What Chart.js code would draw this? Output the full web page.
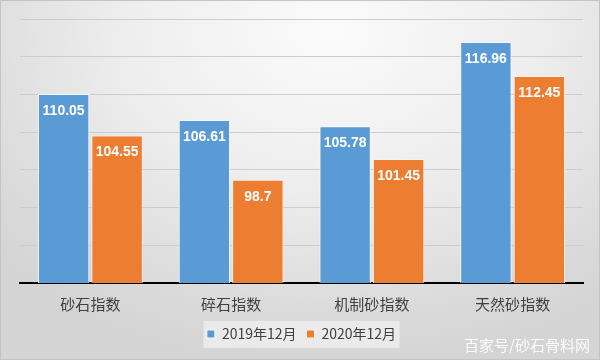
<!DOCTYPE html>
<html>
<head>
<meta charset="utf-8">
<script src="https://cdn.jsdelivr.net/npm/chart.js@4"></script>
<style>
    body { margin: 0; }
    #wrap {
        width: 600px; height: 360px; box-sizing: border-box;
        border: 1px solid #c4c4c4;
        background: radial-gradient(ellipse 75% 95% at 55% 8%, #fbfbfb 0%, #eeeeee 45%, #dadada 85%, #d4d4d4 100%);
    }
</style>
</head>
<body>
<div id="wrap"><canvas id="chart" width="598" height="358"></canvas></div>
<script>
const categories = ["砂石指数", "碎石指数", "机制砂指数", "天然砂指数"];
const series2019 = [110.05, 106.61, 105.78, 116.96];
const series2020 = [104.55, 98.7, 101.45, 112.45];
const seriesNames = ["2019年12月", "2020年12月"];

// white value labels inside the top of each bar
const barLabels = {
    id: "barLabels",
    afterDatasetsDraw(chart) {
        const ctx = chart.ctx;
        ctx.save();
        ctx.font = "bold 14px 'Liberation Sans', sans-serif";
        ctx.fillStyle = "#ffffff";
        ctx.textAlign = "center";
        ctx.textBaseline = "middle";
        chart.data.datasets.forEach((ds, di) => {
            chart.getDatasetMeta(di).data.forEach((bar, i) => {
                ctx.fillText(String(ds.data[i]), bar.x, bar.y + 17);
            });
        });
        ctx.restore();
    }
};

// legend backdrop + watermark
const extras = {
    id: "extras",
    beforeDraw(chart) {
        const lg = chart.legend;
        const ctx = chart.ctx;
        const mid = lg.top + lg.height / 2;
        ctx.save();
        ctx.fillStyle = "rgba(236,236,236,0.9)";
        ctx.fillRect(lg.left + (lg.width - 196) / 2, mid - 13, 196, 27);
        ctx.restore();
    },
    afterDraw(chart) {
        const ctx = chart.ctx;
        ctx.save();
        ctx.font = "15px 'Noto Sans CJK SC', sans-serif";
        ctx.fillStyle = "rgba(255,255,255,0.9)";
        ctx.textAlign = "right";
        ctx.textBaseline = "middle";
        ctx.fillText("百家号/砂石骨料网", 589, 344);
        ctx.restore();
    }
};

new Chart(document.getElementById("chart"), {
    type: "bar",
    data: {
        labels: categories,
        datasets: [
            { label: seriesNames[0], data: series2019, backgroundColor: "#5b9bd5", borderColor: "#f4f8fc", borderWidth: 1 },
            { label: seriesNames[1], data: series2020, backgroundColor: "#ed7d31", borderColor: "#fbf1ea", borderWidth: 1 }
        ]
    },
    options: {
        responsive: false,
        animation: false,
        layout: { padding: { left: 19, right: 16, top: 18, bottom: 8 } },
        datasets: { bar: { categoryPercentage: 0.76, barPercentage: 0.96 } },
        plugins: {
            legend: {
                position: "bottom",
                labels: {
                    boxWidth: 8, boxHeight: 8, padding: 10,
                    font: { size: 14, family: "'Noto Sans CJK SC', sans-serif" },
                    color: "#404040"
                }
            },
            tooltip: { enabled: false }
        },
        scales: {
            x: {
                grid: { display: false },
                border: { color: "#000000", width: 2 },
                ticks: {
                    font: { size: 15, family: "'Noto Sans CJK SC', sans-serif" },
                    color: "#404040", padding: 4
                }
            },
            y: {
                min: 85, max: 120,
                ticks: { display: false, stepSize: 5 },
                grid: { color: "#cdcdcd", drawTicks: false },
                border: { display: false }
            }
        }
    },
    plugins: [barLabels, extras]
});
</script>
</body>
</html>
